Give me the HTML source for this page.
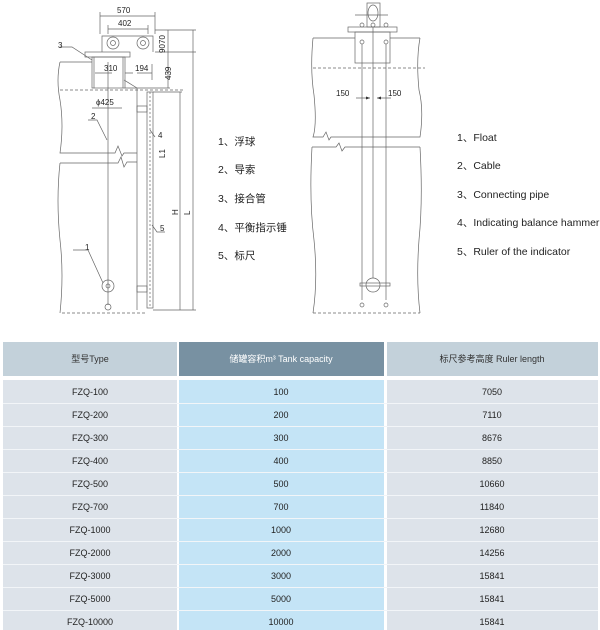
<!DOCTYPE html>
<html><head><meta charset="utf-8"><style>
html,body{margin:0;padding:0;background:#fff;width:600px;height:630px;overflow:hidden}
svg text{font-family:"Liberation Sans","Noto Sans CJK SC",sans-serif}
</style></head><body>
<svg width="600" height="630" viewBox="0 0 600 630" xmlns="http://www.w3.org/2000/svg">
<g fill="none" stroke="#666" stroke-width="0.7">
<!-- LEFT DRAWING -->
<path d="M60 62 Q56 80 60 100 Q64 125 60 153 L115 153 L118 146 L122 156 L124 153 L137 153"/>
<path d="M60 62 L92 62"/>
<path d="M60 90 L185 90" stroke-dasharray="3 2"/>
<rect x="92" y="57" width="33" height="31"/>
<path d="M94 57 L94 88 M123 57 L123 88"/>
<rect x="85" y="52" width="45" height="5"/>
<path d="M102 52 L102 36 L153 36 L153 52"/>
<circle cx="113" cy="43" r="6"/><circle cx="113" cy="43" r="2.5"/>
<circle cx="143" cy="43" r="6"/><circle cx="143" cy="43" r="2.5"/>
<path d="M100 12 L100 34 M155 12 L155 34 M100 16 L155 16 M108 25 L108 34 M148 25 L148 34 M108 29 L148 29"/>
<path d="M95 73 L112 73 M125 73 L133 73 M137 73 L152 73 M152 64 L152 80"/>
<path d="M92 108 L122 108"/>
<path d="M108 90 L108 305 M108 62 L108 90"/>
<path d="M124 80 L137 88 M137 88 L137 310"/>
<rect x="147" y="92" width="6" height="216"/>
<path d="M150 92 L150 308" stroke-dasharray="2 2"/>
<rect x="137" y="106" width="10" height="6"/>
<rect x="137" y="286" width="10" height="6"/>
<path d="M60 163 L118 163 L121 157 L124 167 L127 162 L137 162"/>
<path d="M60 163 Q56 200 60 240 Q64 275 60 313"/>
<path d="M62 313 L147 313" stroke-dasharray="3 2"/>
<path d="M155 30 L196 30 M155 52 L196 52 M125 88 L170 88 M153 92 L182 92 M153 310 L196 310"/>
<path d="M168 30 L168 88 M180 92 L180 310 M193 30 L193 310"/>
<circle cx="108" cy="286" r="6"/><circle cx="108" cy="286" r="2"/>
<circle cx="108" cy="307" r="3"/>
<path d="M73 250 L88 250 L103 283 M88 120 L97 120 L107 140 M60 47 L72 47 L92 60 M155 137 L150 130 M165 232 L157 232 L152 225"/>
<!-- RIGHT DRAWING -->
<path d="M313 38 L355 38 M390 38 L420 38"/>
<path d="M313 38 Q310 70 314 95 Q317 125 313 137 L323 137 L326 132 L329 140 L331 137 L420 137 Q424 110 419 90 Q416 60 420 38"/>
<path d="M313 68 L425 68" stroke-dasharray="3 2"/>
<rect x="355" y="32" width="35" height="31"/>
<rect x="348" y="27" width="49" height="5"/>
<rect x="367" y="3" width="13" height="24"/>
<ellipse cx="373" cy="13" rx="5" ry="8"/>
<path d="M355 15 L388 15"/>
<circle cx="362" cy="25" r="2"/><circle cx="373" cy="25" r="2"/><circle cx="386" cy="25" r="2"/>
<circle cx="362" cy="42" r="2"/><circle cx="386" cy="42" r="2"/>
<path d="M362 44 L362 300 M373 27 L373 278 M386 44 L386 300"/>
<path d="M356 98 L370 98 M377 98 L391 98"/>
<path d="M312 147 L336 147 L339 143 L342 151 L345 147 L420 147"/>
<path d="M312 147 Q309 200 314 240 Q318 280 313 313 M420 147 Q423 200 419 240 Q416 280 420 313"/>
<path d="M313 313 L420 313" stroke-dasharray="3 2"/>
<circle cx="373" cy="285" r="7"/>
<rect x="360" y="283" width="30" height="3"/>
<circle cx="362" cy="305" r="2"/><circle cx="386" cy="305" r="2"/>
</g>
<g fill="#333">
<polygon points="370,98 366,96.5 366,99.5"/><polygon points="377,98 381,96.5 381,99.5"/>
</g>
<g font-size="8" fill="#222">
<text x="117" y="13">570</text>
<text x="118" y="26">402</text>
<text x="104" y="71">310</text>
<text x="135" y="71">194</text>
<text x="96" y="105">ϕ425</text>
<text x="58" y="48">3</text>
<text x="91" y="119">2</text>
<text x="85" y="250">1</text>
<text x="158" y="138">4</text>
<text x="160" y="231">5</text>
<text x="165" y="44" transform="rotate(-90 165 44)">70</text>
<text x="165" y="53" transform="rotate(-90 165 53)">90</text>
<text x="171" y="80" transform="rotate(-90 171 80)">439</text>
<text x="165" y="158" transform="rotate(-90 165 158)">L1</text>
<text x="178" y="215" transform="rotate(-90 178 215)">H</text>
<text x="190" y="215" transform="rotate(-90 190 215)">L</text>
<text x="336" y="96">150</text>
<text x="388" y="96">150</text>
</g>
<g font-size="10.5" fill="#222">
<text x="218" y="145">1、浮球</text>
<text x="218" y="173">2、导索</text>
<text x="218" y="202">3、接合管</text>
<text x="218" y="231">4、平衡指示锤</text>
<text x="218" y="259">5、标尺</text>
<text x="457" y="141">1、Float</text>
<text x="457" y="169">2、Cable</text>
<text x="457" y="198">3、Connecting pipe</text>
<text x="457" y="226">4、Indicating balance hammer</text>
<text x="457" y="255">5、Ruler of the indicator</text>
</g>
<!-- TABLE -->
<rect x="3" y="342" width="174" height="34" fill="#c3d1da"/>
<rect x="179" y="342" width="205" height="34" fill="#7891a2"/>
<rect x="387" y="342" width="211" height="34" fill="#c3d1da"/>
<g font-size="9" text-anchor="middle">
<text x="90" y="362" fill="#333">型号Type</text>
<text x="281" y="362" fill="#fff">储罐容积m³ Tank capacity</text>
<text x="492" y="362" fill="#333">标尺参考高度 Ruler length</text>
</g>
<rect x="3" y="380" width="174" height="250" fill="#dde3ea"/>
<rect x="179" y="380" width="205" height="250" fill="#c4e4f6"/>
<rect x="387" y="380" width="211" height="250" fill="#dde3ea"/>
<g stroke="#f2f5f8" stroke-width="1">
<path d="M3 403.5H598M3 426.5H598M3 449.5H598M3 472.5H598M3 495.5H598M3 518.5H598M3 541.5H598M3 564.5H598M3 587.5H598M3 610.5H598"/>
</g>
<g font-size="9" fill="#222" text-anchor="middle">
<text x="90" y="395">FZQ-100</text><text x="281" y="395">100</text><text x="492" y="395">7050</text>
<text x="90" y="418">FZQ-200</text><text x="281" y="418">200</text><text x="492" y="418">7110</text>
<text x="90" y="441">FZQ-300</text><text x="281" y="441">300</text><text x="492" y="441">8676</text>
<text x="90" y="464">FZQ-400</text><text x="281" y="464">400</text><text x="492" y="464">8850</text>
<text x="90" y="487">FZQ-500</text><text x="281" y="487">500</text><text x="492" y="487">10660</text>
<text x="90" y="510">FZQ-700</text><text x="281" y="510">700</text><text x="492" y="510">11840</text>
<text x="90" y="533">FZQ-1000</text><text x="281" y="533">1000</text><text x="492" y="533">12680</text>
<text x="90" y="556">FZQ-2000</text><text x="281" y="556">2000</text><text x="492" y="556">14256</text>
<text x="90" y="579">FZQ-3000</text><text x="281" y="579">3000</text><text x="492" y="579">15841</text>
<text x="90" y="602">FZQ-5000</text><text x="281" y="602">5000</text><text x="492" y="602">15841</text>
<text x="90" y="625">FZQ-10000</text><text x="281" y="625">10000</text><text x="492" y="625">15841</text>
</g>
</svg>
</body></html>
